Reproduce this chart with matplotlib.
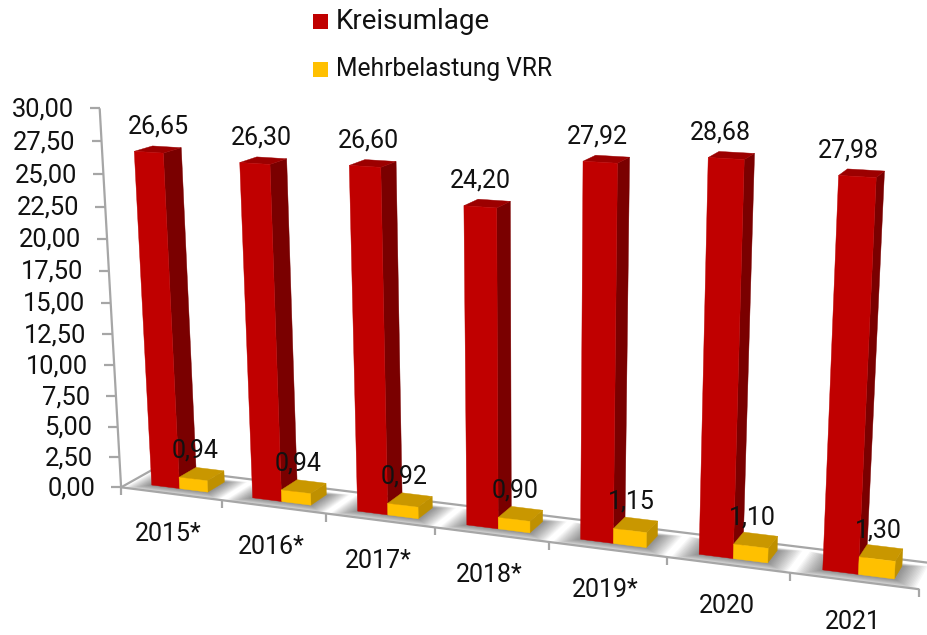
import numpy as np
import matplotlib
matplotlib.use("Agg")
import matplotlib.pyplot as plt
from matplotlib.patches import Polygon, Rectangle

years = ["2015*", "2016*", "2017*", "2018*", "2019*", "2020", "2021"]
kreisumlage = [26.65, 26.30, 26.60, 24.20, 27.92, 28.68, 27.98]
mehrbelastung = [0.94, 0.94, 0.92, 0.90, 1.15, 1.10, 1.30]
y_ticks = [0, 2.5, 5, 7.5, 10, 12.5, 15, 17.5, 20, 22.5, 25, 27.5, 30]
series_names = ["Kreisumlage", "Mehrbelastung VRR"]

RED = ("#C00000", "#7A0000", "#9C0000")      # front, side, top
YEL = ("#FFC000", "#BF9000", "#C99700")
GRID = "#A6A6A6"
FONT = "Roboto"
FS = 18

# Bar layout in chart space: category units across, depth 0..1 front to back
R0, R1, Y1 = 0.22, 0.50, 0.78
V0, V1 = 0.25, 0.75

k, m = kreisumlage, mehrbelastung
# Camera calibration: chart-space anchors and where they land in the image
calib = [
    ((0, 0, 0), (120, 489)), ((7, 0, 0), (918, 592)), ((0, 1, 0), (152, 470)),
    ((0, 0, 30), (97, 108)), ((1, 0, 0), (219, 501)), ((5, 0, 0), (665, 558)), ((6, 0, 0), (789, 575)),
    ((R0, V0, 0), (153, 484)), ((R1, V0, 0), (181, 488)), ((Y1, V0, 0), (209, 491)),
    ((R1, V1, m[0]), (197, 467)), ((Y1, V1, m[0]), (225, 471)), ((R1, V0, m[0]), (181, 477)),
    ((R0, V0, k[0]), (135, 152)), ((R1, V0, k[0]), (165, 154)), ((R1, V1, k[0]), (182, 147)),
    ((6 + R0, V0, 0), (823, 569)), ((6 + R1, V0, 0), (859, 573)), ((6 + Y1, V0, 0), (897, 578)),
    ((6 + R1, V0, m[6]), (860, 557)), ((6 + Y1, V1, m[6]), (903, 549)), ((6 + R1, V1, m[6]), (866, 545)),
    ((6 + R0, V0, k[6]), (838, 175)), ((6 + R1, V0, k[6]), (877, 177)), ((6 + R1, V1, k[6]), (884, 172)),
    ((5 + R0, V0, k[5]), (708, 158)), ((5 + R1, V0, k[5]), (745, 160)), ((5 + R1, V1, k[5]), (754, 153)),
    ((5 + R0, V0, 0), (699, 553)), ((5 + R1, V0, 0), (734, 557)),
    ((1 + R0, V0, k[1]), (240, 162)), ((1 + R0, V0, 0), (253, 497)),
    ((2 + R0, V0, k[2]), (349, 165)), ((2 + R0, V0, 0), (358, 510)),
]


def scaled(p):
    return np.array([p[0] / 7.0, p[1], p[2] / 30.0, 1.0])


A, b = [], []
for w, (px, py) in calib:
    X = scaled(w)
    A.append(np.r_[X, np.zeros(4), -px * X[:3]])
    b.append(px)
    A.append(np.r_[np.zeros(4), X, -py * X[:3]])
    b.append(py)
sol = np.linalg.lstsq(np.array(A), np.array(b), rcond=None)[0]
P = np.vstack([sol[:4], sol[4:8], np.r_[sol[8:11], 1.0]])


def proj(u, v, z):
    h = P @ scaled((u, v, z))
    return h[0] / h[2], h[1] / h[2]


fig = plt.figure(figsize=(9.27, 6.35), dpi=100)
ax = fig.add_axes([0, 0, 1, 1])
ax.set_xlim(0, 927)
ax.set_ylim(635, 0)
ax.axis("off")

n = len(years)
floor = Polygon([proj(0, 0, 0), proj(n, 0, 0), proj(n, 1, 0), proj(0, 1, 0)],
                closed=True, fc="white", ec="none", zorder=1)
ax.add_patch(floor)

# soft shadows on the floor
for i in range(n):
    for s in np.linspace(1, 0.08, 16):
        du, dvf, dvb = 0.19 * s, 0.30 * s, 0.12 * s
        sh = Polygon([proj(i + R0 - du, V0 - dvf, 0), proj(i + Y1 + du, V0 - dvf, 0),
                      proj(i + Y1 + du, V1 + dvb, 0), proj(i + R0 - du, V1 + dvb, 0)],
                     closed=True, fc="black", ec="none", alpha=0.03, zorder=2)
        ax.add_patch(sh)
        sh.set_clip_path(floor)

# floor edges and axis
lkw = dict(color=GRID, lw=1.6, zorder=3, solid_capstyle="butt")
for a, c in [((0, 0, 0), (n, 0, 0)), ((0, 1, 0), (n, 1, 0)), ((0, 0, 0), (0, 1, 0)), ((0, 0, 0), (0, 0, 30))]:
    pa, pc = proj(*a), proj(*c)
    ax.plot([pa[0], pc[0]], [pa[1], pc[1]], **lkw)

for t in y_ticks:
    x, y = proj(0, 0, t)
    ax.plot([x - 10, x], [y, y], **lkw)
    ax.text(x - 26, y + 1, f"{t:.2f}".replace(".", ","), ha="right", va="center",
            family=FONT, fontsize=FS + 0.4, color="#111111", zorder=8)
for i in range(n + 1):
    x, y = proj(i, 0, 0)
    ax.plot([x, x], [y, y + 8], **lkw)


def box(u0, u1, h, cols):
    fr = [proj(u0, V0, 0), proj(u1, V0, 0), proj(u1, V0, h), proj(u0, V0, h)]
    sd = [proj(u1, V0, 0), proj(u1, V1, 0), proj(u1, V1, h), proj(u1, V0, h)]
    tp = [proj(u0, V0, h), proj(u1, V0, h), proj(u1, V1, h), proj(u0, V1, h)]
    for pts, c in ((sd, cols[1]), (tp, cols[2]), (fr, cols[0])):
        ax.add_patch(Polygon(pts, closed=True, fc=c, ec=c, lw=0.3, zorder=4))


for i in range(n):
    box(i + R0, i + R1, kreisumlage[i], RED)
    box(i + R1, i + Y1, mehrbelastung[i], YEL)

txt = dict(family=FONT, fontsize=FS, color="#111111", ha="center", va="center", zorder=9)
for i in range(n):
    f = i / (n - 1)
    x, y = proj(i + (R0 + R1) / 2, V0, kreisumlage[i])
    ax.text(x + 10 - 19 * f, y - 26, f"{kreisumlage[i]:.2f}".replace(".", ","), **txt)
    x, y = proj(i + (R1 + Y1) / 2, V0, mehrbelastung[i])
    ax.text(x + 2 - 1 * f, y - 28 - 1 * f, f"{mehrbelastung[i]:.2f}".replace(".", ","), **txt)
    x, y = proj(i + 0.5, 0, 0)
    ax.text(x - 3 + 2 * f, y + 40 + f, years[i], **txt)

# legend
for name, col, ly, fs in zip(series_names, (RED[0], YEL[0]), (21.5, 69), (20, 17.7)):
    ax.add_patch(Rectangle((313, ly - 7.5), 15, 15, fc=col, ec="none", zorder=8))
    ax.text(336, ly, name, family=FONT, fontsize=fs, color="#111111", ha="left", va="center", zorder=9)

fig.savefig("out.png", dpi=100)
